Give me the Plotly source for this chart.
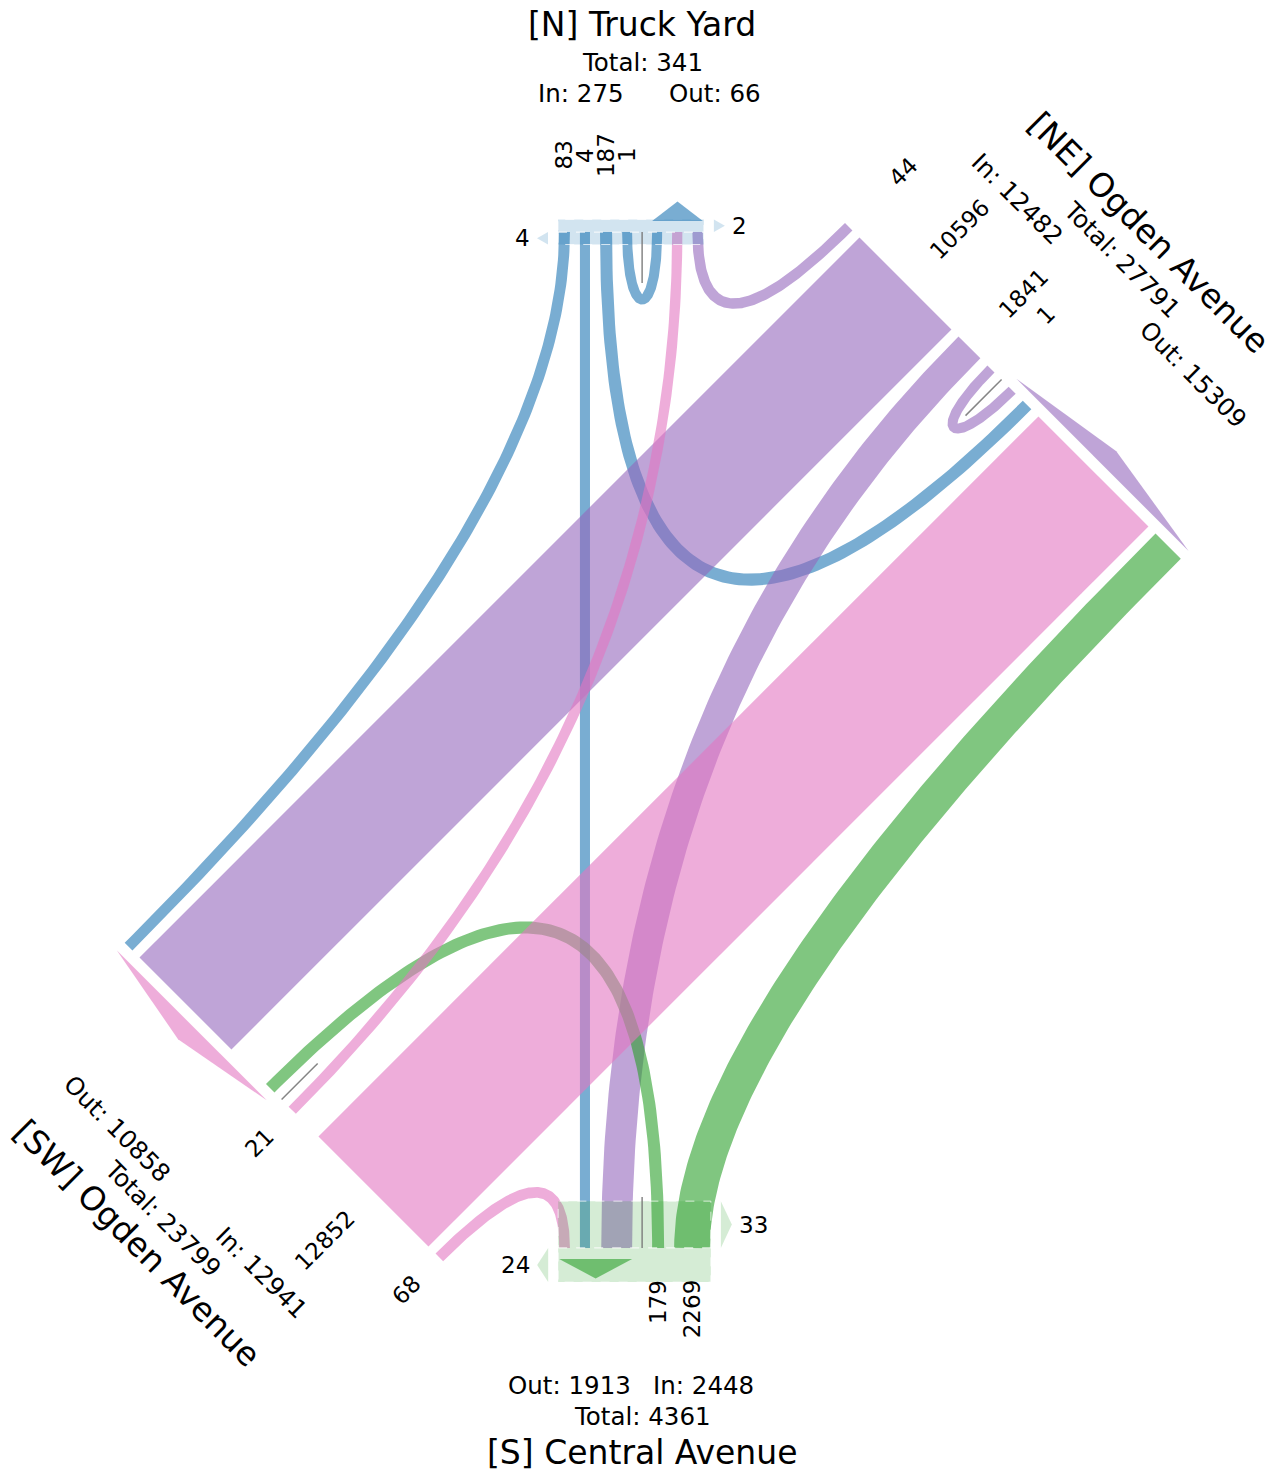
import numpy as np
import plotly.graph_objects as go

# legs of the intersection
legs = ["N", "NE", "S", "SW"]
leg_titles = ["[N] Truck Yard", "[NE] Ogden Avenue", "[S] Central Avenue", "[SW] Ogden Avenue"]
leg_angles = [90, 45, 270, 225]
leg_rgb = ["31,119,180", "148,103,189", "44,160,44", "227,119,194"]

# turning movement counts
flow_from = ["N", "N", "N", "N", "NE", "NE", "NE", "NE", "S", "S", "SW", "SW", "SW"]
flow_to = ["SW", "S", "NE", "N", "N", "SW", "S", "NE", "SW", "NE", "N", "NE", "S"]
flow_vol = [83, 4, 187, 1, 44, 10596, 1841, 1, 179, 2269, 21, 12852, 68]

# crossing counts (inner band / outer band)
cross_legs = ["N", "S"]
cross_inner = [4, 33]
cross_outer = [2, 24]

# ---- layout ----
W, H = 1280, 1469
PAD = 8  # page body margin
r2 = np.sqrt(0.5)
base = {"N": (559, 232), "S": (559, 1248), "NE": (845, 223), "SW": (125, 943)}
tang = {"N": (1, 0), "S": (1, 0), "NE": (r2, r2), "SW": (r2, r2)}
inward = {"N": (0, 1), "S": (0, -1), "NE": (-r2, r2), "SW": (r2, -r2)}
pairs = [("N", "S"), ("NE", "SW")]
label_side = {"N": (-61, 73), "NE": (-116, 132), "S": (-61, 73), "SW": (-108, 96)}
gap = 10
FONT = "DejaVu Sans"
FS_TITLE, FS_SUB, FS_NUM = 33, 24.5, 23

base = {k: np.array(v, float) for k, v in base.items()}
tang = {k: np.array(v, float) for k, v in tang.items()}
inward = {k: np.array(v, float) for k, v in inward.items()}
ang = dict(zip(legs, leg_angles))
rgb = dict(zip(legs, leg_rgb))
nf = len(flow_vol)
wid = [10 + 0.01133 * v for v in flow_vol]
hand = {L: np.sign(tang[L][0] * inward[L][1] - tang[L][1] * inward[L][0]) for L in legs}


def P(L, s):
    return base[L] + s * tang[L]


def ccw(a, b, uturn):
    return uturn if a == b else (ang[b] - ang[a]) % 360


# order of movements along each leg, split by the median
before, after = {}, {}
for L in legs:
    ins = sorted([i for i in range(nf) if flow_from[i] == L], key=lambda i: ccw(L, flow_to[i], 360))
    outs = sorted([i for i in range(nf) if flow_to[i] == L], key=lambda i: ccw(L, flow_from[i], 0))
    items = [("in", i) for i in ins] + ["|"] + [("out", i) for i in outs]
    if hand[L] < 0:
        items = items[::-1]
    k = items.index("|")
    before[L], after[L] = items[:k], items[k + 1:]

pos, median = {}, {}
for A, B in pairs:
    g = max(sum(wid[i] + gap for _, i in before[L]) for L in (A, B))
    median[A] = median[B] = g
    ends, starts = {}, {}
    for _ in range(4):
        for L, O in ((A, B), (B, A)):
            cur = g
            for kind, i in reversed(before[L]):
                e = cur - gap
                pk = (O, "out" if kind == "in" else "in", i)
                if {flow_from[i], flow_to[i]} == {A, B} and pk in ends:
                    e = min(e, ends[pk])
                ends[(L, kind, i)] = e
                cur = e - wid[i]
            cur = g
            for kind, i in after[L]:
                s = cur + gap
                pk = (O, "out" if kind == "in" else "in", i)
                if {flow_from[i], flow_to[i]} == {A, B} and pk in starts:
                    s = max(s, starts[pk])
                starts[(L, kind, i)] = s
                cur = s + wid[i]
    for k, e in ends.items():
        pos[k] = e - wid[k[2]]
    pos.update(starts)


def bezier(pts, m=120):
    t = np.linspace(0, 1, m)[:, None]
    if len(pts) == 3:
        return (1 - t) ** 2 * pts[0] + 2 * t * (1 - t) * pts[1] + t ** 2 * pts[2]
    return ((1 - t) ** 3 * pts[0] + 3 * t * (1 - t) ** 2 * pts[1]
            + 3 * t ** 2 * (1 - t) * pts[2] + t ** 3 * pts[3])


def poly(fig, pts, fill, line=None):
    pts = np.asarray(pts)
    fig.add_trace(go.Scatter(
        x=np.append(pts[:, 0], pts[0, 0]), y=np.append(pts[:, 1], pts[0, 1]),
        mode="lines", fill="toself", fillcolor=fill,
        line=line or dict(width=0, color=fill), hoverinfo="skip", showlegend=False))


fig = go.Figure()

# ribbons
for i in range(nf):
    O, D = flow_from[i], flow_to[i]
    w = wid[i]
    a = P(O, pos[(O, "in", i)] + w / 2)
    b = P(D, pos[(D, "out", i)] + w / 2)
    nO, nD = inward[O], inward[D]
    cr = nO[0] * nD[1] - nO[1] * nD[0]
    if O == D:
        k = 3 * np.linalg.norm(b - a)
        ctrl = [a, a + k * nO, b + k * nD, b]
    elif abs(cr) < 1e-6:
        ctrl = [a, a + (b - a) / 3, a + 2 * (b - a) / 3, b]
    else:
        u, v = np.linalg.solve(np.column_stack([nO, -nD]), b - a)
        ctrl = [a, a + u * nO, b]
    c = bezier(ctrl)
    d = np.gradient(c, axis=0)
    d /= np.linalg.norm(d, axis=1)[:, None]
    nrm = np.column_stack([-d[:, 1], d[:, 0]])
    shape = np.vstack([c + nrm * w / 2, (c - nrm * w / 2)[::-1]])
    poly(fig, shape, f"rgba({rgb[O]},0.6)")

annotations = []


def text(p, s, size, angle=0, lift=0):
    # lift moves the text along its own "up" direction
    a = np.radians(angle)
    p = p + lift * np.array([np.sin(a), -np.cos(a)])
    annotations.append(dict(x=p[0], y=p[1], text=s, showarrow=False, textangle=angle,
                            xanchor="center", yanchor="middle",
                            font=dict(family=FONT, size=size, color="black")))


# crossing bands
for L, ci, co in zip(cross_legs, cross_inner, cross_outer):
    keys = [k for k in pos if k[0] == L]
    s0 = min(pos[k] for k in keys) - 1
    s1 = max(pos[k] + wid[k[2]] for k in keys) + 1
    n = inward[L]
    t_rot = tang[L] * hand[L]
    for cnt, sgn, dvec in ((ci, 1, -t_rot), (co, -1, t_rot)):
        th = max(12.5, 1.42 * cnt)
        off = sgn * th * n
        poly(fig, [P(L, s0), P(L, s1), P(L, s1) + off, P(L, s0) + off],
             f"rgba({rgb[L]},0.2)",
             dict(width=1, color="rgba(255,255,255,0.7)", dash="dash"))
        se = s1 if np.dot(dvec, tang[L]) > 0 else s0
        e = P(L, se)
        poly(fig, [e + dvec * 10, e + dvec * 10 + off, e + dvec * 21 + off / 2],
             f"rgba({rgb[L]},0.2)")
        tw = len(str(cnt)) * 0.636 * FS_NUM
        text(e + dvec * (28 + tw / 2) + off / 2, str(cnt), FS_NUM)

for L, title in zip(legs, leg_titles):
    n, t = inward[L], tang[L]
    t_rot = t * hand[L]
    out = -n
    # direction arrow over the outgoing movements
    outk = [k for k in pos if k[0] == L and k[1] == "out"]
    s0 = min(pos[k] for k in outk)
    s1 = max(pos[k] + wid[k[2]] for k in outk)
    poly(fig, [P(L, s0) + 11 * out, P(L, s1) + 11 * out, P(L, (s0 + s1) / 2) + 30.5 * out],
         f"rgba({rgb[L]},0.6)")
    # median marker
    m = P(L, median[L])
    mm = m + 51 * n
    fig.add_trace(go.Scatter(x=[m[0], mm[0]], y=[m[1], mm[1]], mode="lines",
                             line=dict(color="rgba(120,120,120,0.9)", width=1.5),
                             hoverinfo="skip", showlegend=False))
    # movement labels
    rd = out if out[1] < 0 else n
    a_lab = np.degrees(np.arctan2(rd[1], rd[0]))
    for kind, i in before[L] + after[L]:
        if kind != "in":
            continue
        s = str(flow_vol[i])
        pc = P(L, pos[(L, kind, i)] + wid[i] / 2)
        dist = 77 if rd is out else 32 + len(s) * 0.636 * FS_NUM / 2
        text(pc + out * dist, s, FS_NUM, a_lab)
    # leg title and totals
    tot_in = sum(v for f, v in zip(flow_from, flow_vol) if f == L)
    tot_out = sum(v for f, v in zip(flow_to, flow_vol) if f == L)
    a_t = np.degrees(np.arctan2(t[1], t[0]))
    text(m + out * 206, title, FS_TITLE, a_t, lift=2)
    text(m + out * 169, f"Total: {tot_in + tot_out}", FS_SUB, a_t, lift=1)
    text(m + out * 138 + t_rot * label_side[L][0], f"In: {tot_in}", FS_SUB, a_t, lift=1)
    text(m + out * 138 + t_rot * label_side[L][1], f"Out: {tot_out}", FS_SUB, a_t, lift=1)

# the page body adds an 8px margin; shrink the figure so page pixels match the data
fig.update_layout(
    width=W - PAD, height=H - PAD, margin=dict(l=0, r=0, t=0, b=0),
    plot_bgcolor="white", paper_bgcolor="white",
    xaxis=dict(range=[PAD, W], visible=False, fixedrange=True),
    yaxis=dict(range=[H, PAD], visible=False, fixedrange=True),
    annotations=annotations,
)
fig.write_html("out.html")
